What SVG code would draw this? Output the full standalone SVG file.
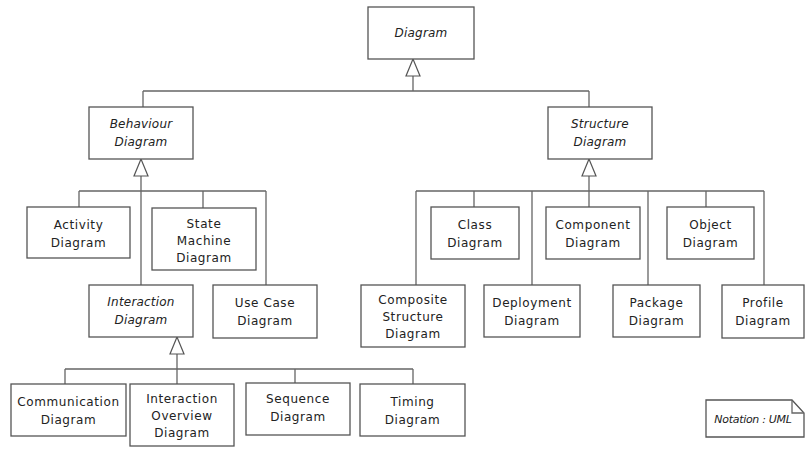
<svg xmlns="http://www.w3.org/2000/svg" width="812" height="450" viewBox="0 0 812 450">
<style>
.box{fill:#fff;stroke:#555;stroke-width:1.3}
.ln{fill:none;stroke:#666;stroke-width:1.3}
.tri{fill:#fff;stroke:#555;stroke-width:1.2}
text{font-family:"DejaVu Sans","Liberation Sans",sans-serif;font-size:12px;fill:#222;text-anchor:middle;letter-spacing:0.6px}
.it{font-style:italic;letter-spacing:0.2px}
</style>
<rect width="812" height="450" fill="#fff"/>
<g id="connectors">
<path class="ln" d="M413 76V91M143 91H589M143 91V107M589 91V107"/>
<path class="ln" d="M141 176V285M79 191H266M79 191V207M203 191V208M266 191V285"/>
<path class="ln" d="M177 354V384M65 369H413M65 369V384M295 369V383M413 369V384"/>
<path class="ln" d="M589 176V207M416 191H764M416 191V285M474 191V207M532 191V285M648 191V285M706 191V207M764 191V285"/>
<polygon class="tri" points="413,59 406,76 420,76"/>
<polygon class="tri" points="141,159 134,176 148,176"/>
<polygon class="tri" points="589,159 582,176 596,176"/>
<polygon class="tri" points="177,337 170,354 184,354"/>
</g>
<g id="diagram"><rect class="box" x="368" y="7" width="106" height="52"/><text class="it" x="421" y="37">Diagram</text></g>
<g id="behaviour"><rect class="box" x="89" y="107" width="104" height="52"/><text class="it" x="141" y="128">Behaviour</text><text class="it" x="141" y="146">Diagram</text></g>
<g id="structure"><rect class="box" x="548" y="107" width="104" height="52"/><text class="it" x="600" y="128">Structure</text><text class="it" x="600" y="146">Diagram</text></g>
<g id="activity"><rect class="box" x="27" y="207" width="103" height="51"/><text x="78.5" y="229">Activity</text><text x="78.5" y="247">Diagram</text></g>
<g id="statemachine"><rect class="box" x="152" y="208" width="104" height="62"/><text x="204" y="228">State</text><text x="204" y="245">Machine</text><text x="204" y="262">Diagram</text></g>
<g id="interaction"><rect class="box" x="89" y="285" width="104" height="52"/><text class="it" x="141" y="306">Interaction</text><text class="it" x="141" y="324">Diagram</text></g>
<g id="usecase"><rect class="box" x="213" y="285" width="104" height="53"/><text x="265" y="307">Use Case</text><text x="265" y="325">Diagram</text></g>
<g id="communication"><rect class="box" x="11" y="384" width="115" height="52"/><text x="68.5" y="406">Communication</text><text x="68.5" y="424">Diagram</text></g>
<g id="overview"><rect class="box" x="130" y="384" width="104" height="62"/><text x="182" y="403">Interaction</text><text x="182" y="420">Overview</text><text x="182" y="437">Diagram</text></g>
<g id="sequence"><rect class="box" x="246" y="383" width="104" height="52"/><text x="298" y="403">Sequence</text><text x="298" y="421">Diagram</text></g>
<g id="timing"><rect class="box" x="360" y="384" width="105" height="52"/><text x="412.5" y="406">Timing</text><text x="412.5" y="424">Diagram</text></g>
<g id="class"><rect class="box" x="431" y="207" width="88" height="52"/><text x="475" y="229">Class</text><text x="475" y="247">Diagram</text></g>
<g id="component"><rect class="box" x="546" y="207" width="94" height="52"/><text x="593" y="229">Component</text><text x="593" y="247">Diagram</text></g>
<g id="object"><rect class="box" x="667" y="207" width="87" height="52"/><text x="710.5" y="229">Object</text><text x="710.5" y="247">Diagram</text></g>
<g id="composite"><rect class="box" x="361" y="285" width="104" height="62"/><text x="413" y="304">Composite</text><text x="413" y="321">Structure</text><text x="413" y="338">Diagram</text></g>
<g id="deployment"><rect class="box" x="484" y="285" width="96" height="52"/><text x="532" y="307">Deployment</text><text x="532" y="325">Diagram</text></g>
<g id="package"><rect class="box" x="613" y="285" width="87" height="52"/><text x="656.5" y="307">Package</text><text x="656.5" y="325">Diagram</text></g>
<g id="profile"><rect class="box" x="722" y="285" width="82" height="53"/><text x="763" y="307">Profile</text><text x="763" y="325">Diagram</text></g>
<g id="notation"><path class="box" d="M706 400H792L804 413V437H706Z"/><path class="ln" d="M792 400V413H804"/><text class="it" x="753" y="423" style="font-size:11px;letter-spacing:-0.3px">Notation : UML</text></g>
</svg>
